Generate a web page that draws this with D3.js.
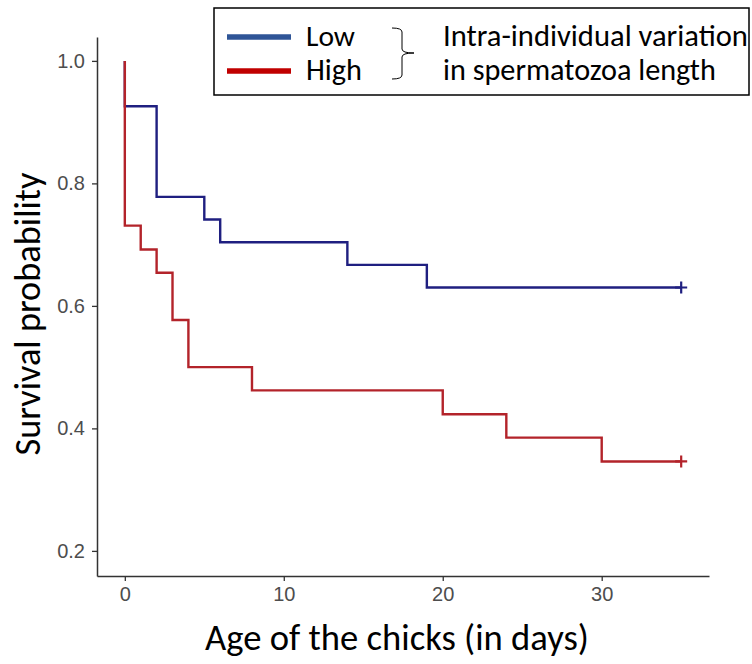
<!DOCTYPE html>
<html>
<head>
<meta charset="utf-8">
<script src="https://cdn.jsdelivr.net/npm/d3@7"></script>
<style>
  html, body { margin: 0; padding: 0; background: #fff; }
  svg { display: block; }
  .tick text { font-family: "Liberation Sans", Arial, sans-serif !important; font-size: 20px !important; }
</style>
</head>
<body>
<svg id="chart" width="752" height="664"></svg>
<script>
// ---- data ----
const lowTimes  = [0, 0, 2, 5, 6, 14, 19, 35];
const lowSurv   = [1.0, 0.926, 0.778, 0.741, 0.704, 0.667, 0.630, 0.630];
const highTimes = [0, 0, 1, 2, 3, 4, 8, 20, 24, 30, 35];
const highSurv  = [1.0, 0.731, 0.692, 0.654, 0.577, 0.500, 0.462, 0.423, 0.385, 0.346, 0.346];
const xTicks = [0, 10, 20, 30];
const yTicks = [0.2, 0.4, 0.6, 0.8, 1.0];
const groupNames = ["Low", "High"];
const legendNote = ["Intra-individual variation", "in spermatozoa length"];
const xTitle = "Age of the chicks (in days)";
const yTitle = "Survival probability";

// ---- layout ----
const svg = d3.select("#chart");
const plot = { left: 97, right: 709, top: 37, bottom: 576 };
const x = d3.scaleLinear().domain([-1.75, 36.75]).range([plot.left, plot.right]);
const y = d3.scaleLinear().domain([0.159, 1.039]).range([plot.bottom, plot.top]);

const axisColor = "#333333";
const tickTextColor = "#4d4d4d";

// axes
const gx = svg.append("g").attr("transform", `translate(0,${plot.bottom})`)
  .call(d3.axisBottom(x).tickValues(xTicks).tickFormat(d3.format("d")).tickSize(5).tickSizeOuter(0).tickPadding(6));
const gy = svg.append("g").attr("transform", `translate(${plot.left},0)`)
  .call(d3.axisLeft(y).tickValues(yTicks).tickFormat(d3.format(".1f")).tickSize(5).tickSizeOuter(0).tickPadding(7));
[gx, gy].forEach(g => {
  g.attr("font-family", "'Liberation Sans', Arial, sans-serif").attr("font-size", 20);
  g.select(".domain").attr("stroke", axisColor).attr("stroke-width", 1.5);
  g.selectAll(".tick line").attr("stroke", axisColor).attr("stroke-width", 1.3);
  g.selectAll(".tick text").attr("fill", tickTextColor);
});

// curves
const line = d3.line().x(d => x(d[0])).y(d => y(d[1])).curve(d3.curveStepAfter);
const series = [
  { times: lowTimes, surv: lowSurv, color: "#1f1f80" },
  { times: highTimes, surv: highSurv, color: "#b3232a" }
];
series.forEach(s => {
  const pts = s.times.map((t, i) => [t, s.surv[i]]);
  svg.append("path").attr("d", line(pts)).attr("fill", "none")
    .attr("stroke", s.color).attr("stroke-width", 2.4);
  const last = pts[pts.length - 1];
  const cx = x(last[0]), cy = y(last[1]);
  svg.append("path").attr("d", `M${cx - 6},${cy}H${cx + 6}M${cx},${cy - 6}V${cy + 6}`)
    .attr("stroke", s.color).attr("stroke-width", 2.2).attr("fill", "none");
});

// text helper: fit to a target width
const titleFont = "Carlito, Calibri, Lato, 'Open Sans', sans-serif";
function fitText(sel, width) {
  sel.attr("font-size", 100);
  const w = sel.node().getComputedTextLength();
  sel.attr("font-size", 100 * width / w);
  return sel;
}

// axis titles
fitText(svg.append("text").attr("x", 397).attr("y", 650).attr("text-anchor", "middle")
  .attr("font-family", titleFont).attr("fill", "#000").text(xTitle), 384);
fitText(svg.append("text").attr("transform", "translate(40,314) rotate(-90)").attr("text-anchor", "middle")
  .attr("font-family", titleFont).attr("fill", "#000").text(yTitle), 283);

// legend
const lg = svg.append("g");
lg.append("rect").attr("x", 214).attr("y", 8).attr("width", 535).attr("height", 87)
  .attr("fill", "#fff").attr("stroke", "#000").attr("stroke-width", 1.5);
const legendColors = ["#2f5597", "#c00000"];
const rowY = [37, 71];
groupNames.forEach((g, i) => {
  lg.append("line").attr("x1", 227).attr("x2", 291).attr("y1", rowY[i]).attr("y2", rowY[i])
    .attr("stroke", legendColors[i]).attr("stroke-width", 5.5);
  const t = lg.append("text").attr("x", 306).attr("y", rowY[i] + 9)
    .attr("font-family", titleFont).attr("fill", "#000").text(g);
  fitText(t, i === 0 ? 49 : 56);
});
// bracket
lg.append("path")
  .attr("d", "M392,28 Q402,28 402,32 L402,49 Q402,53 414,53 Q402,53 402,57 L402,75 Q402,79 392,79")
  .attr("fill", "none").attr("stroke", "#000").attr("stroke-width", 1);
legendNote.forEach((n, i) => {
  const t = lg.append("text").attr("x", 443).attr("y", rowY[i] + 9)
    .attr("font-family", titleFont).attr("fill", "#000").text(n);
  fitText(t, i === 0 ? 305 : 273);
});
</script>
</body>
</html>
